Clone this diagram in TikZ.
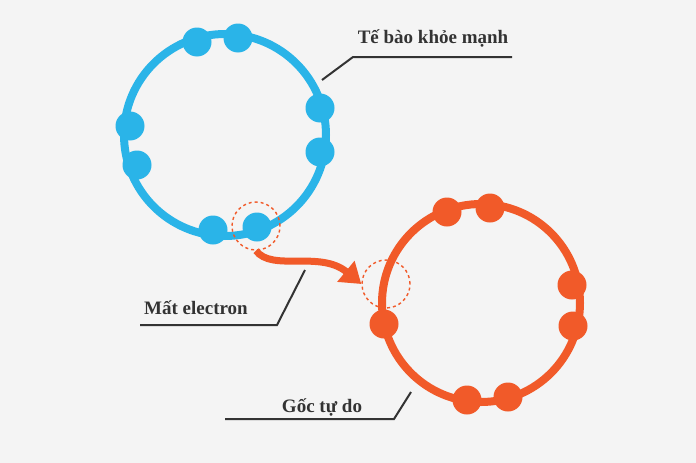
\documentclass[tikz,border=0pt]{standalone}
\usepackage{fontspec}
\setmainfont{Liberation Serif}
\usetikzlibrary{arrows.meta}
\definecolor{cb}{HTML}{2AB4E8}
\definecolor{co}{HTML}{F15A29}
\definecolor{bg}{HTML}{F4F4F4}
\definecolor{ln}{HTML}{333333}
\tikzset{lab/.style={font=\bfseries\fontsize{19}{21}\selectfont,text=ln,inner sep=1pt},
leader/.style={draw=ln,line width=2pt},
bdot/.style={circle,fill=cb,minimum size=29,inner sep=0},
odot/.style={circle,fill=co,minimum size=29,inner sep=0}}
\begin{document}
\begin{tikzpicture}[x=1pt,y=-1pt]
\fill[bg] (0,0) rectangle (696,463);
\useasboundingbox (0,0) rectangle (696,463);
\draw[cb,line width=8pt] (225,135) circle (101);
\foreach \p/\n in {{(197,42)}/b1,{(238,38)}/b2,{(130,126)}/b3,{(137,165)}/b4,{(320,108)}/b5,{(320,152)}/b6,{(213,230)}/b7,{(257,227)}/b8}
  \node[bdot] (\n) at \p {};
\draw[co,line width=8pt] (481,303) circle (99);
\foreach \p/\n in {{(447,212)}/o1,{(490,208)}/o2,{(572,285)}/o3,{(573,326)}/o4,{(384,324)}/o5,{(467,400)}/o6,{(508,397)}/o7}
  \node[odot] (\n) at \p {};
\node[circle,draw=co,dashed,line width=1.4pt,minimum size=48] (d1) at (256,226) {};
\node[circle,draw=co,dashed,line width=1.4pt,minimum size=48] (d2) at (386,284) {};
\draw[co,line width=7pt,-{Triangle[length=20pt,width=26pt]}] (d1.south) .. controls (272,272) and (320,250) .. (d2.west);
\node[lab] (t1) at (433,38) {Tế bào khỏe mạnh};
\coordinate (t1a) at (353,57); \coordinate (t1b) at (512,57); \coordinate (t1c) at (322,80);
\draw[leader] (t1b) -- (t1a) -- (t1c);
\node[lab] (t2) at (196,308) {Mất electron};
\coordinate (t2a) at (140,325); \coordinate (t2b) at (277,325); \coordinate (t2c) at (305,270);
\draw[leader] (t2a) -- (t2b) -- (t2c);
\node[lab] (t3) at (322,407) {Gốc tự do};
\coordinate (t3a) at (225,419); \coordinate (t3b) at (394,419); \coordinate (t3c) at (411,392);
\draw[leader] (t3a) -- (t3b) -- (t3c);
\end{tikzpicture}
\end{document}
